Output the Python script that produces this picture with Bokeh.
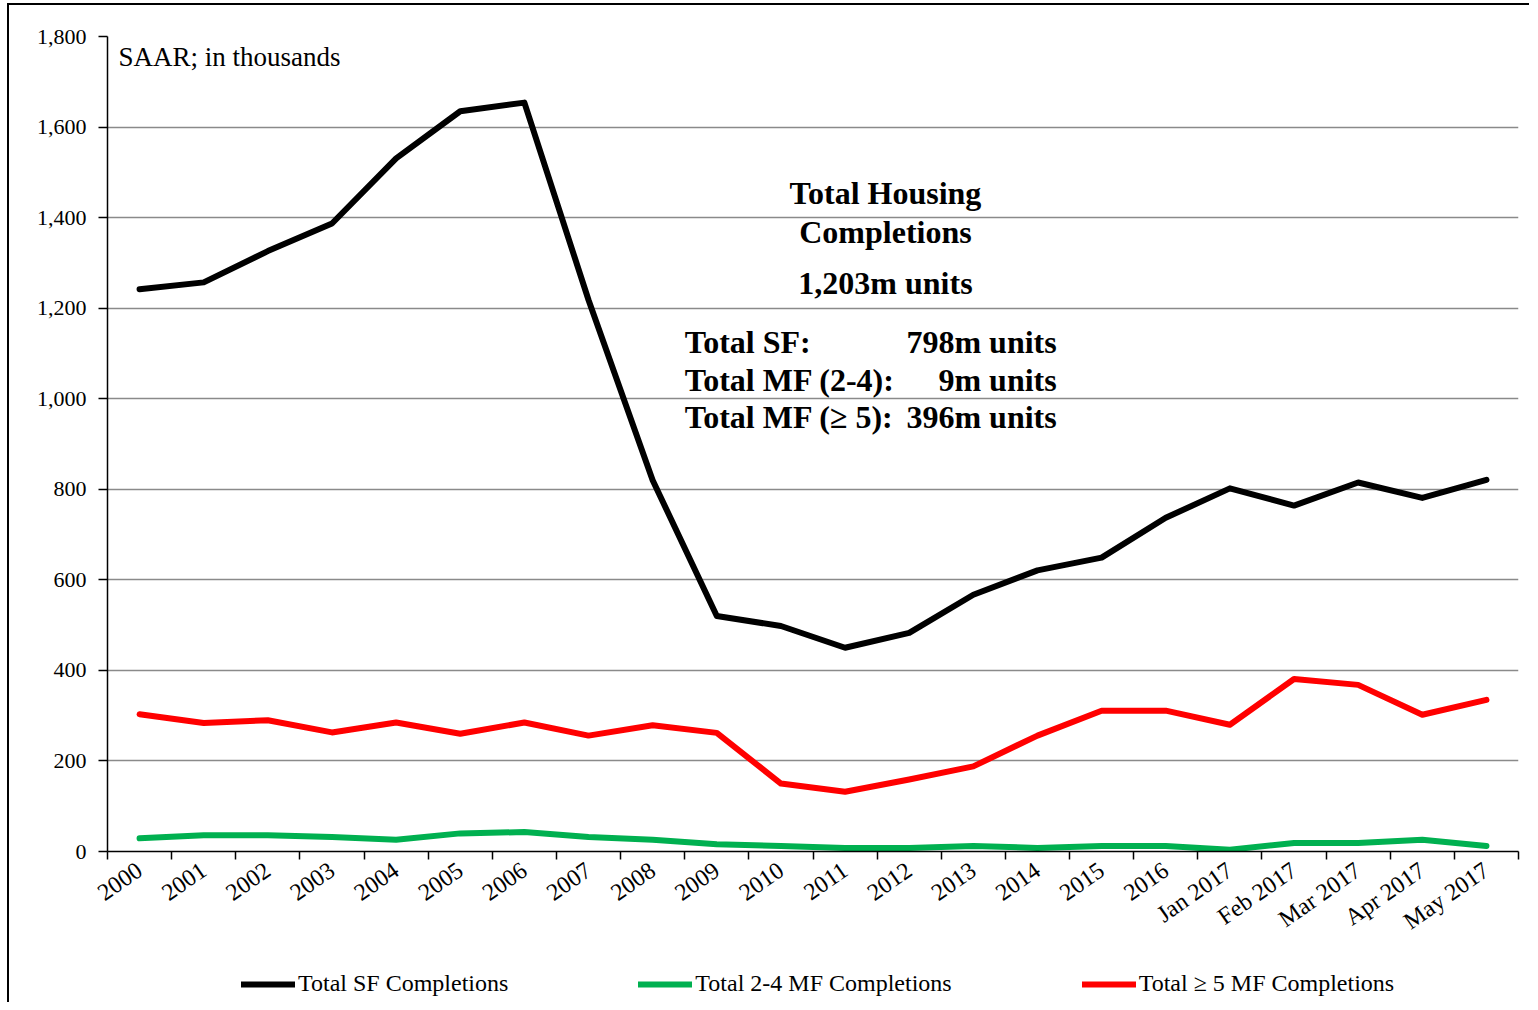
from bokeh.plotting import figure
from bokeh.layouts import column
from bokeh.models import Range1d, FixedTicker, NumeralTickFormatter, Legend, LegendItem, Label
from bokeh.embed import file_html
from bokeh.resources import INLINE

categories = ["2000", "2001", "2002", "2003", "2004", "2005", "2006", "2007", "2008",
              "2009", "2010", "2011", "2012", "2013", "2014", "2015", "2016",
              "Jan 2017", "Feb 2017", "Mar 2017", "Apr 2017", "May 2017"]
sf_completions = [1242, 1257, 1326, 1387, 1531, 1635, 1654, 1218, 820, 520, 498, 450,
                  483, 567, 621, 649, 737, 802, 764, 815, 781, 821]
mf24_completions = [29, 36, 36, 32, 26, 40, 43, 32, 26, 16, 12, 8, 8, 12, 8, 12, 12,
                    4, 19, 19, 26, 12]
mf5_completions = [303, 284, 290, 263, 285, 260, 285, 256, 279, 262, 150, 132, 159,
                   188, 256, 311, 311, 280, 381, 368, 302, 335]
y_ticks = [0, 200, 400, 600, 800, 1000, 1200, 1400, 1600, 1800]
series_names = ["Total SF Completions", "Total 2-4 MF Completions",
                "Total \u2265 5 MF Completions"]
series_colors = ["black", "#00B050", "#FF0000"]
series_values = [sf_completions, mf24_completions, mf5_completions]

FONT = "Liberation Serif"
n = len(categories)
xs = [i + 0.5 for i in range(n)]

p = figure(width=1520, height=942, output_backend="svg", toolbar_location=None,
           x_range=Range1d(0, n), y_range=Range1d(0, 1800),
           min_border_left=98, min_border_right=11, min_border_top=31, min_border_bottom=95)
p.outline_line_color = None
p.background_fill_color = "white"
p.border_fill_color = "white"

# axes
p.yaxis.ticker = FixedTicker(ticks=y_ticks)
p.yaxis.formatter = NumeralTickFormatter(format="0,0")
p.yaxis.major_label_text_font = FONT
p.yaxis.major_label_text_font_size = "22px"
p.yaxis.major_label_text_color = "black"
p.yaxis.major_tick_out = 9
p.yaxis.major_tick_in = 0
p.yaxis.minor_tick_out = 0
p.yaxis.minor_tick_in = 0
p.yaxis.major_label_standoff = 12
p.yaxis.axis_line_width = 1.5
p.yaxis.major_tick_line_width = 1.5

p.xaxis.ticker = FixedTicker(ticks=xs, minor_ticks=list(range(n + 1)))
p.xaxis.major_label_overrides = {x: c for x, c in zip(xs, categories)}
p.xaxis.major_label_orientation = 0.61
p.xaxis.major_label_text_font = FONT
p.xaxis.major_label_text_font_size = "24px"
p.xaxis.major_label_text_color = "black"
p.xaxis.major_tick_out = 0
p.xaxis.major_tick_in = 0
p.xaxis.minor_tick_out = 8
p.xaxis.minor_tick_in = 0
p.xaxis.minor_tick_line_width = 1.5
p.xaxis.axis_line_width = 1.5
p.xaxis.major_label_standoff = 8

p.xgrid.grid_line_color = None
p.ygrid.ticker = FixedTicker(ticks=y_ticks)
p.ygrid.grid_line_color = "#8a8a8a"
p.ygrid.grid_line_width = 1.5

for vals, col in zip(series_values, series_colors):
    p.line(xs, vals, line_color=col, line_width=6, line_join="round", line_cap="round")

def lab(text, x, y, align="left", bold=False, size="32px"):
    p.add_layout(Label(x=x, y=y, text=text, text_align=align, text_baseline="alphabetic",
                       text_font=FONT, text_font_size=size,
                       text_font_style="bold" if bold else "normal", text_color="black"))

lab("SAAR; in thousands", 0.17, 1754, size="27px")
cx = 12.13
lab("Total Housing", cx, 1454, "center", True)
lab("Completions", cx, 1368, "center", True)
lab("1,203m units", cx, 1255, "center", True)
lx, rx = 9.0, 14.8
lab("Total SF:", lx, 1125, "left", True)
lab("798m units", rx, 1125, "right", True)
lab("Total MF (2-4):", lx, 1041, "left", True)
lab("9m units", rx, 1041, "right", True)
lab("Total MF (\u2265 5):", lx, 960, "left", True)
lab("396m units", rx, 960, "right", True)

# legend strip below the chart (its lines lie outside its visible range)
p2 = figure(width=1520, height=55, output_backend="svg", toolbar_location=None,
            x_axis_type=None, y_axis_type=None, min_border=0,
            x_range=Range1d(0, n), y_range=Range1d(-2000, -1900))
p2.outline_line_color = None
p2.grid.visible = False
items = []
for name, vals, col in zip(series_names, series_values, series_colors):
    r = p2.line(xs, vals, line_color=col, line_width=6, line_cap="round")
    items.append(LegendItem(label=name, renderers=[r]))
legend = Legend(items=items, orientation="horizontal", location=(134, 5),
                label_text_font=FONT, label_text_font_size="24px", label_text_color="black",
                glyph_width=54, glyph_height=20, label_height=22, label_standoff=3,
                spacing=130, padding=0, margin=0,
                border_line_color=None, background_fill_alpha=0)
p2.add_layout(legend)

layout = column(p, p2, spacing=0,
                styles={"border-top": "2px solid black", "border-left": "2px solid black",
                        "margin-left": "7px", "margin-top": "3px"})

open("out.html", "w").write(file_html(layout, INLINE))
